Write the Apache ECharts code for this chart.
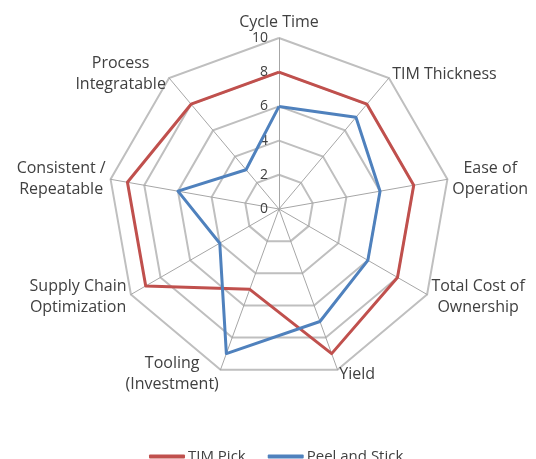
<!DOCTYPE html>
<html><head><meta charset="utf-8">
<script src="https://cdn.jsdelivr.net/npm/echarts@6/dist/echarts.min.js"></script>
<style>html,body{margin:0;padding:0;background:#fff}#c{width:536px;height:459px}</style>
</head><body><div id="c"></div>
<script>
// Categories in clockwise order starting at the top
const indicators = ['Cycle Time','TIM Thickness','Ease of\nOperation','Total Cost of\nOwnership','Yield','Tooling\n(Investment)','Supply Chain\nOptimization','Consistent /\nRepeatable','Process\nIntegratable'];
const timPick = [8, 8, 8, 8, 9, 5, 9, 9, 8];
const peelStick = [6, 7, 6, 6, 7, 9, 4, 6, 3];
const maxVal = 10;
const tickStep = 2;

// ECharts radar runs counter-clockwise; reorder so it reads clockwise.
const order = [0].concat(indicators.map((_, i) => i).slice(1).reverse());
const reorder = arr => order.map(i => arr[i]);

const FONT = 'Open Sans';
const rich = {};
indicators.forEach((n, i) => {
  rich['n' + i] = {fontFamily: FONT, fontSize: 16, color: '#404040', lineHeight: 21, align: 'center'};
});

const chart = echarts.init(document.getElementById('c'));
chart.setOption({
  animation: false,
  radar: {
    center: [279, 209],
    radius: 171,
    startAngle: 90,
    shape: 'polygon',
    splitNumber: maxVal / tickStep,
    indicator: reorder(indicators).map(n => ({name: n, max: maxVal, min: 0})),
    nameGap: 5,
    axisName: {
      formatter: function (name) {
        const i = indicators.indexOf(name);
        return name.split('\n').map(l => '{n' + i + '|' + l + '}').join('\n');
      },
      rich: rich
    },
    splitArea: {show: false},
    splitLine: {lineStyle: {color: '#BFBFBF', width: 2}},
    axisLine: {lineStyle: {color: '#A6A6A6', width: 1}}
  },
  polar: {center: [279, 209], radius: 171},
  angleAxis: {show: false, startAngle: 90, min: 0, max: 360},
  radiusAxis: {
    min: 0, max: maxVal, interval: tickStep,
    axisLine: {show: false}, axisTick: {show: false}, splitLine: {show: false},
    axisLabel: {show: true, fontFamily: FONT, fontSize: 14, color: '#404040', margin: 11}
  },
  legend: {
    bottom: -10,
    left: 144,
    itemWidth: 36,
    itemHeight: 4,
    itemGap: 22,
    icon: 'roundRect',
    textStyle: {fontFamily: FONT, fontSize: 15, color: '#404040', padding: [0, 0, 0, -2]},
    data: ['TIM Pick', 'Peel and Stick']
  },
  series: [{
    type: 'radar',
    symbol: 'none',
    data: [
      {name: 'TIM Pick', value: reorder(timPick), lineStyle: {color: '#C0504D', width: 3}, itemStyle: {color: '#C0504D'}},
      {name: 'Peel and Stick', value: reorder(peelStick), lineStyle: {color: '#4F81BD', width: 3}, itemStyle: {color: '#4F81BD'}}
    ]
  }]
});
</script></body></html>
